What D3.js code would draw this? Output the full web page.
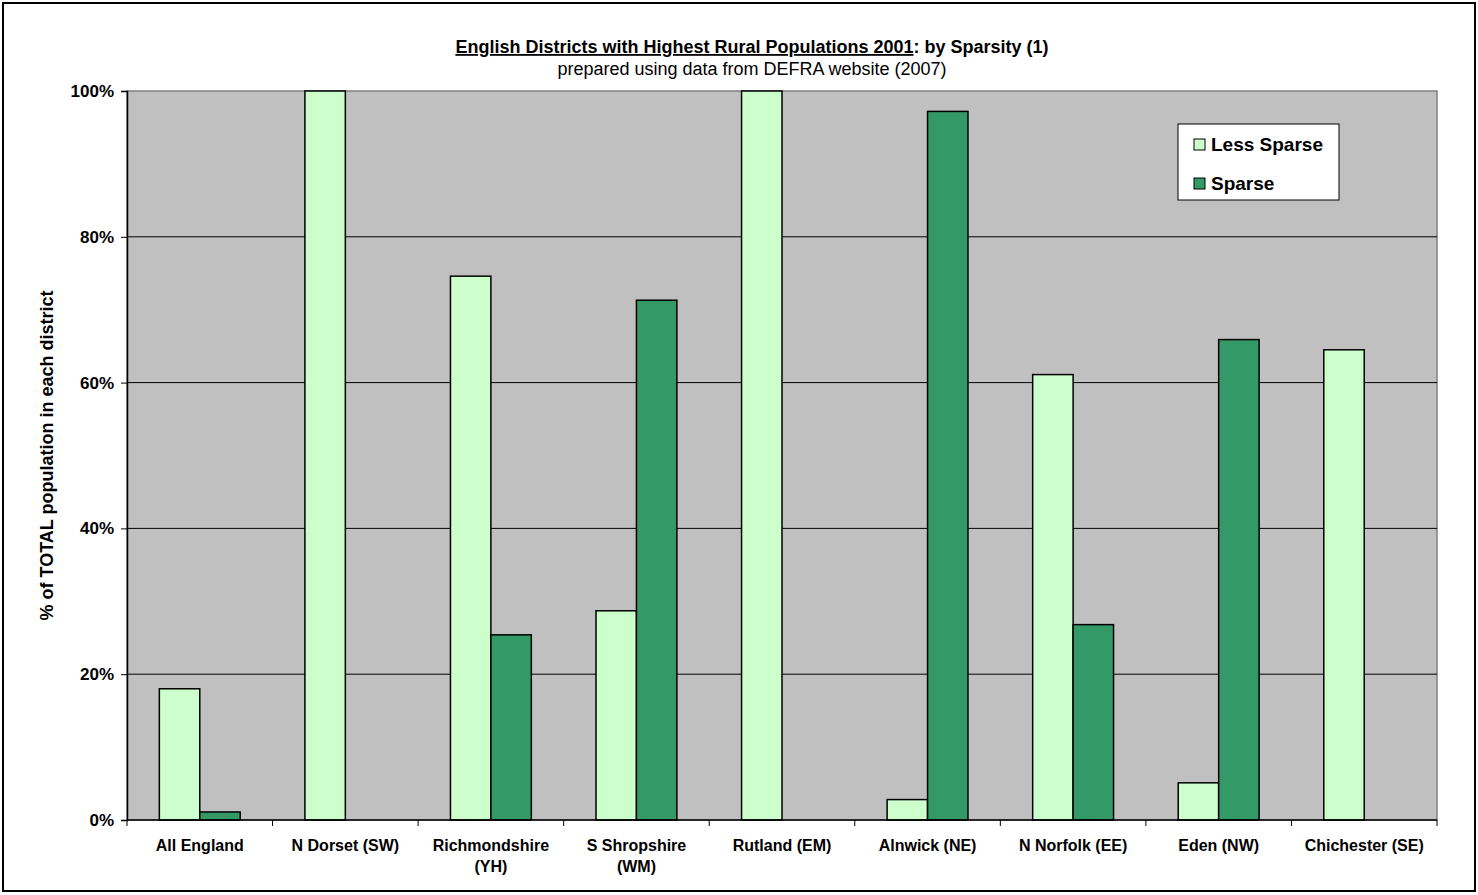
<!DOCTYPE html>
<html>
<head>
<meta charset="utf-8">
<script src="https://cdn.jsdelivr.net/npm/d3@7"></script>
<style>
  html, body { margin: 0; padding: 0; background: #fff; }
  svg { display: block; font-family: "Liberation Sans", Arial, sans-serif; }
</style>
</head>
<body>
<svg id="chart" width="1478" height="895"></svg>
<script>
// District names (line breaks mark where the label wraps)
const districts = [
  "All England", "N Dorset (SW)", "Richmondshire\n(YH)", "S Shropshire\n(WM)",
  "Rutland (EM)", "Alnwick (NE)", "N Norfolk (EE)", "Eden (NW)", "Chichester (SE)"
];
// Share of total population, per cent
const lessSparse = [18.0, 100, 74.6, 28.7, 100, 2.8, 61.1, 5.1, 64.5];
const sparse     = [1.1, 0, 25.4, 71.3, 0, 97.2, 26.8, 65.9, 0];
const seriesNames = ["Less Sparse", "Sparse"];
const seriesColors = ["#CCFFCC", "#339966"];
const yTicks = [0, 20, 40, 60, 80, 100];

const svg = d3.select("#chart");
const W = 1478, H = 895;

// outer frame
svg.append("rect").attr("x", 3).attr("y", 3).attr("width", W - 6).attr("height", H - 7)
  .attr("fill", "#fff").attr("stroke", "#000").attr("stroke-width", 2);

const plot = { left: 127, right: 1437, top: 91, bottom: 820 };

const x = d3.scaleBand().domain(districts).range([plot.left, plot.right]).paddingInner(0).paddingOuter(0);
const y = d3.scaleLinear().domain([0, 100]).range([plot.bottom, plot.top]);
const inner = d3.scaleBand().domain(seriesNames).range([0, x.bandwidth()]).paddingInner(0).paddingOuter(0.8);

// plot background
svg.append("rect").attr("x", plot.left).attr("y", plot.top)
  .attr("width", plot.right - plot.left).attr("height", plot.bottom - plot.top)
  .attr("fill", "#C0C0C0").attr("stroke", "#808080").attr("stroke-width", 1.5);

// horizontal gridlines
svg.append("g").selectAll("line").data(yTicks.filter(d => d > 0 && d < 100)).join("line")
  .attr("x1", plot.left).attr("x2", plot.right)
  .attr("y1", d => y(d)).attr("y2", d => y(d))
  .attr("stroke", "#000").attr("stroke-width", 1);

// bars
const rows = districts.map((d, i) => ({ district: d, values: [lessSparse[i], sparse[i]] }));
const groups = svg.append("g").selectAll("g").data(rows).join("g")
  .attr("transform", d => `translate(${x(d.district)},0)`);
groups.selectAll("rect").data(d => d.values.map((v, k) => ({ v, k })).filter(e => e.v > 0)).join("rect")
  .attr("x", e => inner(seriesNames[e.k]))
  .attr("width", inner.bandwidth())
  .attr("y", e => y(e.v))
  .attr("height", e => y(0) - y(e.v))
  .attr("fill", e => seriesColors[e.k])
  .attr("stroke", "#000").attr("stroke-width", 1.5);

// y axis
const yAxis = svg.append("g").attr("transform", `translate(${plot.left},0)`)
  .call(d3.axisLeft(y).tickValues(yTicks).tickFormat(d => d + "%").tickSize(6).tickPadding(7));
yAxis.select(".domain").attr("stroke", "#000").attr("stroke-width", 1.5);
yAxis.selectAll(".tick line").attr("stroke", "#000");
yAxis.selectAll(".tick text").attr("font-size", 17).attr("font-weight", "bold")
  .attr("font-family", "Liberation Sans, Arial, sans-serif").attr("fill", "#000");

// x axis: ticks sit on the band boundaries
const xAxisG = svg.append("g").attr("transform", `translate(0,${plot.bottom})`);
xAxisG.append("line").attr("x1", plot.left).attr("x2", plot.right).attr("y1", 0).attr("y2", 0)
  .attr("stroke", "#000").attr("stroke-width", 1.5);
const bounds = districts.map(d => x(d)).concat([plot.right]);
xAxisG.selectAll("line.tk").data(bounds).join("line").attr("class", "tk")
  .attr("x1", d => d).attr("x2", d => d).attr("y1", 0).attr("y2", 6)
  .attr("stroke", "#000");
const xl = xAxisG.selectAll("text").data(districts).join("text")
  .attr("x", d => x(d) + x.bandwidth() / 2)
  .attr("y", 31)
  .attr("text-anchor", "middle")
  .attr("font-size", 16).attr("font-weight", "bold");
xl.selectAll("tspan").data(d => d.split("\n")).join("tspan")
  .attr("x", function () { return this.parentNode.getAttribute("x"); })
  .attr("dy", (d, i) => i === 0 ? 0 : 21)
  .text(d => d);

// y axis title
svg.append("text")
  .attr("transform", `translate(53,${(plot.top + plot.bottom) / 2}) rotate(-90)`)
  .attr("text-anchor", "middle")
  .attr("font-size", 18).attr("font-weight", "bold")
  .text("% of TOTAL population in each district");

// titles
const t = svg.append("text").attr("x", 752).attr("y", 53).attr("text-anchor", "middle")
  .attr("font-size", 18).attr("font-weight", "bold");
t.append("tspan").attr("text-decoration", "underline").text("English Districts with Highest Rural Populations 2001");
t.append("tspan").text(": by Sparsity (1)");
svg.append("text").attr("x", 752).attr("y", 75).attr("text-anchor", "middle")
  .attr("font-size", 18).text("prepared using data from DEFRA website (2007)");

// legend
const lg = svg.append("g").attr("transform", "translate(1178,124)");
lg.append("rect").attr("width", 161).attr("height", 76)
  .attr("fill", "#fff").attr("stroke", "#000").attr("stroke-width", 1);
const items = lg.selectAll("g").data(seriesNames).join("g")
  .attr("transform", (d, i) => `translate(16,${15 + i * 39})`);
items.append("rect").attr("width", 11).attr("height", 11)
  .attr("fill", (d, i) => seriesColors[i]).attr("stroke", "#000");
items.append("text").attr("x", 17).attr("y", 12)
  .attr("font-size", 19).attr("font-weight", "bold").text(d => d);
</script>
</body>
</html>
